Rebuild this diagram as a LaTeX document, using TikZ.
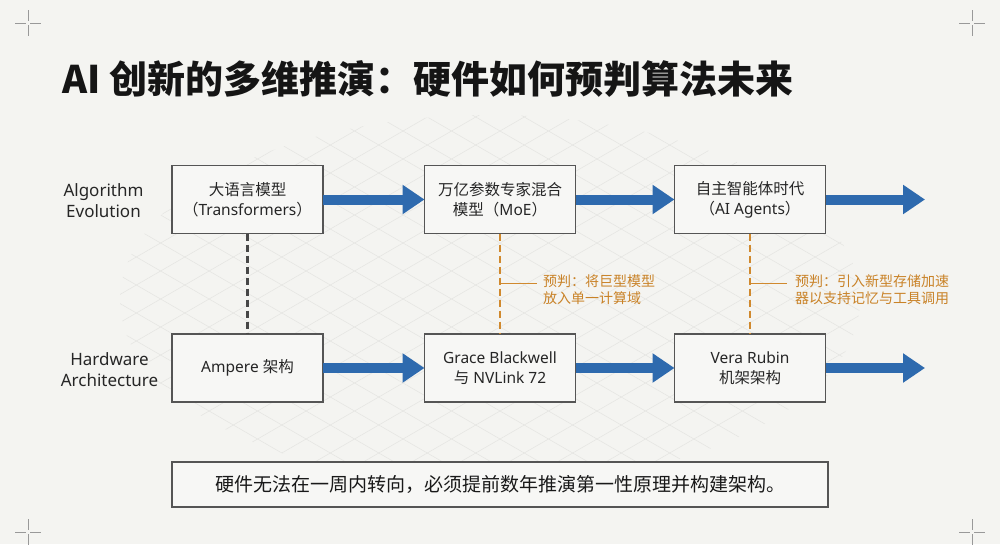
\documentclass[tikz,border=0pt]{standalone}
\usepackage{fontspec}
\setmainfont{Noto Sans}
\newfontfamily\cjk{Noto Sans CJK SC}
\usetikzlibrary{arrows.meta}
\definecolor{bg}{HTML}{F4F4F1}
\definecolor{boxfill}{HTML}{F7F7F5}
\definecolor{boxline}{HTML}{555555}
\definecolor{flowblue}{HTML}{2E6AAE}
\definecolor{predorange}{HTML}{D0892E}
\definecolor{predtext}{HTML}{C98227}
\definecolor{gridcol}{HTML}{E6E6E3}
\definecolor{titlecol}{HTML}{151515}
\begin{document}
\begin{tikzpicture}[x=1pt,y=-1pt,
  box/.style={draw=boxline, line width=1.4pt, fill=boxfill, minimum width=151pt,
    minimum height=68pt, inner sep=0pt, outer sep=0pt, align=center,
    text=black!85, font=\fontsize{15.5}{20}\selectfont},
  rowlabel/.style={align=center, text=black!85, font=\fontsize{17}{21}\selectfont},
  flow/.style={draw=flowblue, line width=10pt, -{Triangle[length=22pt,width=28pt]}},
  gdash/.style={draw=black!72, line width=2.4pt, dash pattern=on 7pt off 4pt},
  odash/.style={draw=predorange, line width=2.4pt, dash pattern=on 7pt off 4pt},
  obranch/.style={draw=predorange, line width=1.4pt},
  pred/.style={anchor=west, inner sep=0pt, align=left, text=predtext,
    font=\cjk\fontsize{14}{17}\selectfont},
  crossmark/.style={draw=black!40, line width=0.7pt},
  gridl/.style={draw=gridcol, line width=0.6pt}
]
% background and bounding box
\fill[bg] (0,0) rectangle (1000,544);
\useasboundingbox (0,0) rectangle (1000,544);

% faint grid
\begin{scope}
  \clip (490,300) ellipse [x radius=370, y radius=185];
  \foreach \c in {-380,-352,...,520} {
    \draw[gridl] (100,\c) -- (900,\c+462);
    \draw[gridl] (100,\c+462) -- (900,\c);
  }
\end{scope}

% corner marks
\foreach \cx/\cy in {28/23, 972/23, 28/532, 972/532}
  \draw[crossmark] (\cx-13,\cy) -- (\cx-2,\cy) (\cx+2,\cy) -- (\cx+13,\cy)
                   (\cx,\cy-13) -- (\cx,\cy-2) (\cx,\cy+2) -- (\cx,\cy+13);

% title
\node[anchor=base west, inner sep=0pt, text=titlecol,
  font=\cjk\bfseries\fontsize{38}{40}\selectfont] (title) at (62,93)
  {AI 创新的多维推演：硬件如何预判算法未来};

% row labels
\node[rowlabel] (lalg) at (103.5,201) {Algorithm\\Evolution};
\node[rowlabel] (lhw) at (109.5,370) {Hardware\\Architecture};

% algorithm row
\node[box] (b1) at (247.5,199.5) {{\cjk 大语言模型}\\{\cjk （}Transformers{\cjk ）}};
\node[box] (b2) at (500,199.5) {{\cjk 万亿参数专家混合}\\{\cjk 模型（}MoE{\cjk ）}};
\node[box] (b3) at (750,199.5) {{\cjk 自主智能体时代}\\{\cjk （}AI Agents{\cjk ）}};

% hardware row
\node[box] (h1) at (247.5,368) {Ampere {\cjk 架构}};
\node[box] (h2) at (500,368) {Grace Blackwell\\{\cjk 与} NVLink 72};
\node[box] (h3) at (750,368) {Vera Rubin\\{\cjk 机架架构}};

% free ends
\coordinate (e1) at (925,199.5);
\coordinate (e2) at (925,368);

% flow arrows
\draw[flow] (b1.east) -- (b2.west);
\draw[flow] (b2.east) -- (b3.west);
\draw[flow] (b3.east) -- (e1);
\draw[flow] (h1.east) -- (h2.west);
\draw[flow] (h2.east) -- (h3.west);
\draw[flow] (h3.east) -- (e2);

% vertical connectors
\draw[gdash] (b1.south) -- (h1.north);
\draw[odash] (b2.south) -- (h2.north);
\draw[odash] (b3.south) -- (h3.north);

% predictions
\node[pred] (p1) at (543,289.5) {预判：将巨型模型\\放入单一计算域};
\node[pred] (p2) at (795,289.5) {预判：引入新型存储加速\\器以支持记忆与工具调用};
\path (b2.south) ++(0,50) coordinate (j1);
\path (b3.south) ++(0,50) coordinate (j2);
\draw[obranch] (j1) -- ([xshift=-6pt]p1.west |- j1);
\draw[obranch] (j2) -- ([xshift=-8pt]p2.west |- j2);

% conclusion
\node[draw=boxline, line width=1.4pt, fill=boxfill, minimum width=656pt,
  minimum height=45pt, inner sep=0pt, text=black!90,
  font=\cjk\fontsize{19}{22}\selectfont] (concl) at (500,484.5)
  {硬件无法在一周内转向，必须提前数年推演第一性原理并构建架构。};
\end{tikzpicture}
\end{document}
